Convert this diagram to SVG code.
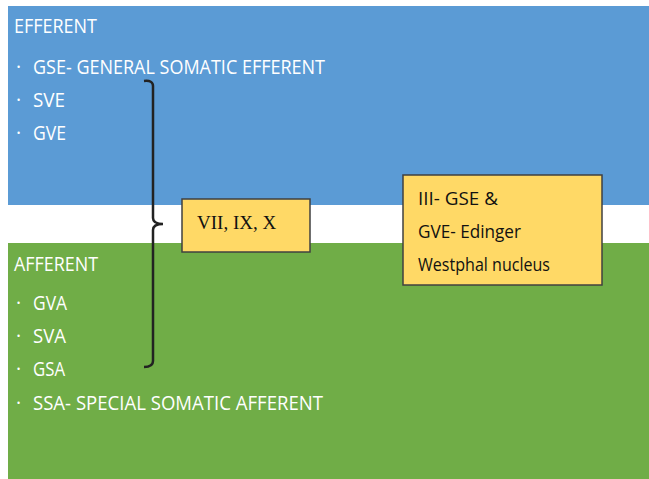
<svg xmlns="http://www.w3.org/2000/svg" width="649" height="479" viewBox="0 0 649 479">
<style>
.w{fill:#ffffff;font-family:"Open Sans","DejaVu Sans",sans-serif;font-size:19.5px}
.k{fill:#111111;font-family:"Open Sans","DejaVu Sans",sans-serif;font-size:18px}
.box{fill:#FFD966;stroke:#404040;stroke-width:1.5}
</style>
<rect width="649" height="479" fill="#ffffff"/>
<g id="efferent">
<rect x="8" y="6" width="641" height="199" fill="#5B9BD5"/>
<text class="w" x="14" y="33" textLength="83" lengthAdjust="spacingAndGlyphs">EFFERENT</text>
<text class="w" x="16" y="74">·</text><text class="w" x="33" y="74" textLength="292" lengthAdjust="spacingAndGlyphs">GSE- GENERAL SOMATIC EFFERENT</text>
<text class="w" x="16" y="107">·</text><text class="w" x="33" y="107" textLength="32" lengthAdjust="spacingAndGlyphs">SVE</text>
<text class="w" x="16" y="140">·</text><text class="w" x="33" y="140" textLength="33" lengthAdjust="spacingAndGlyphs">GVE</text>
</g>
<g id="afferent">
<rect x="8" y="243" width="641" height="236" fill="#70AD47"/>
<text class="w" x="14" y="271" textLength="84" lengthAdjust="spacingAndGlyphs">AFFERENT</text>
<text class="w" x="16" y="310">·</text><text class="w" x="33" y="310" textLength="34" lengthAdjust="spacingAndGlyphs">GVA</text>
<text class="w" x="16" y="343">·</text><text class="w" x="33" y="343" textLength="33" lengthAdjust="spacingAndGlyphs">SVA</text>
<text class="w" x="16" y="376">·</text><text class="w" x="33" y="376" textLength="32" lengthAdjust="spacingAndGlyphs">GSA</text>
<text class="w" x="16" y="410">·</text><text class="w" x="33" y="410" textLength="290" lengthAdjust="spacingAndGlyphs">SSA- SPECIAL SOMATIC AFFERENT</text>
</g>
<g id="connectors">
<path d="M144,81 Q153,80 153,86 L153,218 Q153,224 163,224 Q153,224 153,230 L153,361 Q153,367 144,367" fill="none" stroke="#222222" stroke-width="2.5"/>
</g>
<g id="cranial-nerves">
<rect class="box" x="182" y="199" width="128" height="53"/>
<text x="197" y="229" style="fill:#111;font-family:'Liberation Serif',serif;font-size:19px">VII, IX, X</text>
</g>
<g id="oculomotor">
<rect class="box" x="403" y="175" width="199" height="110"/>
<text class="k" x="418" y="205" textLength="80" lengthAdjust="spacingAndGlyphs">III- GSE &amp;</text>
<text class="k" x="418" y="238" textLength="103" lengthAdjust="spacingAndGlyphs">GVE- Edinger</text>
<text class="k" x="418" y="271" textLength="132" lengthAdjust="spacingAndGlyphs">Westphal nucleus</text>
</g>
</svg>
